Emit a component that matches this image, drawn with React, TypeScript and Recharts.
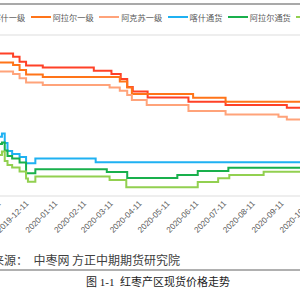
import { LineChart, Line, XAxis, YAxis, CartesianGrid } from 'recharts';

type Pt = [string, number];

const seriesNames = ['喀什一级', '阿拉尔一级', '阿克苏一级', '喀什通货', '阿拉尔通货', '阿克苏通货'];
const seriesColors = ['#ff4127', '#ff7419', '#ffa37a', '#1fb1f2', '#19b04c', '#92d050'];

// step-change points (date, price)
const kashiGrade1: Pt[] = [
  ['2019-11-01', 9.96], ['2019-11-26', 9.79], ['2019-12-03', 9.51], ['2019-12-10', 9.3],
  ['2019-12-28', 9.18], ['2020-02-21', 9.0], ['2020-03-11', 8.82], ['2020-03-21', 8.54],
  ['2020-03-28', 8.09], ['2020-04-03', 7.84], ['2020-04-19', 7.5], ['2020-06-02', 7.27],
  ['2020-07-12', 7.08], ['2020-09-16', 6.94], ['2020-10-15', 6.94],
];
const alaerGrade1: Pt[] = [
  ['2019-11-01', 9.46], ['2019-11-26', 9.32], ['2019-12-03', 9.04], ['2019-12-10', 8.79],
  ['2019-12-28', 8.65], ['2020-03-20', 8.4], ['2020-03-28', 8.06], ['2020-04-02', 7.7],
  ['2020-06-07', 7.49], ['2020-07-12', 7.27], ['2020-10-15', 7.27],
];
const akesuGrade1: Pt[] = [
  ['2019-11-01', 8.96], ['2019-11-26', 8.82], ['2019-12-03', 8.58], ['2019-12-10', 8.34],
  ['2019-12-28', 8.2], ['2020-03-09', 8.06], ['2020-03-20', 7.89], ['2020-03-28', 7.64],
  ['2020-04-02', 7.36], ['2020-04-18', 7.08], ['2020-06-02', 6.75], ['2020-07-12', 6.56],
  ['2020-09-07', 6.43], ['2020-09-16', 6.28], ['2020-10-15', 6.28],
];
const kashiBulk: Pt[] = [
  ['2019-11-01', 5.31], ['2019-11-14', 5.5], ['2019-11-17', 4.96], ['2019-11-20', 4.51],
  ['2019-11-25', 4.35], ['2019-12-03', 4.18], ['2019-12-10', 3.83], ['2019-12-20', 4.1],
  ['2020-02-23', 3.88], ['2020-10-15', 3.88],
];
const alaerBulk: Pt[] = [
  ['2019-11-01', 4.91], ['2019-11-14', 4.99], ['2019-11-17', 4.54], ['2019-11-20', 4.23],
  ['2019-11-25', 4.09], ['2019-12-03', 3.87], ['2019-12-10', 3.27], ['2019-12-20', 3.49],
  ['2020-03-06', 3.34], ['2020-03-28', 3.01], ['2020-05-21', 3.17], ['2020-06-12', 3.4],
  ['2020-07-15', 3.58], ['2020-10-15', 3.58],
];
const akesuBulk: Pt[] = [
  ['2019-11-01', 4.29], ['2019-11-14', 4.49], ['2019-11-17', 3.96], ['2019-11-20', 3.73],
  ['2019-11-25', 3.59], ['2019-12-03', 3.37], ['2019-12-10', 2.98], ['2019-12-12', 2.8],
  ['2019-12-20', 3.09], ['2020-03-09', 2.89], ['2020-03-27', 2.49], ['2020-06-12', 2.78],
  ['2020-07-04', 2.99], ['2020-07-16', 3.17], ['2020-08-22', 3.36], ['2020-10-15', 3.36],
];

const allSeries = [kashiGrade1, alaerGrade1, akesuGrade1, kashiBulk, alaerBulk, akesuBulk];

const monthTicks = [
  '2019-10-11', '2019-11-11', '2019-12-11', '2020-01-11', '2020-02-11', '2020-03-11', '2020-04-11',
  '2020-05-11', '2020-06-11', '2020-07-11', '2020-08-11', '2020-09-11', '2020-10-11',
];
const priceTicks = [2, 3, 4, 5, 6, 7, 8, 9, 10, 11];

const BASE = Date.parse('2019-12-11');
const toDay = (s: string) => (Date.parse(s) - BASE) / 86400000;
const tickLabel: Record<number, string> = Object.fromEntries(monthTicks.map((t) => [toDay(t), t]));

function DateTick({ x, y, payload }: any) {
  return (
    <text
      x={x}
      y={y}
      dy={3}
      textAnchor="end"
      transform={`rotate(-45, ${x}, ${y})`}
      fontSize={8.2}
      fill="#595959"
      fontFamily="'Liberation Sans', Arial, sans-serif"
    >
      {tickLabel[payload.value]}
    </text>
  );
}

export default function App() {
  return (
    <div
      style={{
        position: 'fixed',
        left: 0,
        top: 0,
        width: 300,
        height: 300,
        overflow: 'hidden',
        background: '#fff',
        fontFamily: "'Noto Sans CJK SC', sans-serif",
      }}
    >
      <div style={{ position: 'absolute', left: 0, top: 3, width: 300, height: 2, background: '#a9a9a9' }} />

      <div style={{ position: 'absolute', left: -29.6, top: 11, display: 'flex', alignItems: 'center', whiteSpace: 'nowrap' }}>
        {seriesNames.map((name, i) => (
          <div key={name} style={{ display: 'flex', alignItems: 'center', marginRight: 5.5 }}>
            <span style={{ width: 20, height: 2, background: seriesColors[i], marginRight: 2 }} />
            <span style={{ fontSize: 8.2, lineHeight: '12px', color: '#595959' }}>{name}</span>
          </div>
        ))}
      </div>

      <div style={{ position: 'absolute', left: -40, top: 0 }}>
        <LineChart width={380} height={236} margin={{ top: 35, right: 0, bottom: 0, left: 0 }}>
          <CartesianGrid vertical={false} stroke="#dedede" strokeWidth={1.2} />
          <XAxis
            dataKey="x"
            type="number"
            domain={[-72.2, 337.3]}
            allowDataOverflow
            ticks={monthTicks.map(toDay)}
            interval={0}
            tick={<DateTick />}
            tickLine={false}
            axisLine={false}
            tickSize={0}
            tickMargin={6}
            height={40}
          />
          <YAxis
            type="number"
            domain={[2, 11]}
            ticks={priceTicks}
            width={0}
            tick={false}
            tickLine={false}
            axisLine={false}
          />
          {allSeries.map((s, i) => (
            <Line
              key={seriesNames[i]}
              data={s.map(([d, v]) => ({ x: toDay(d), y: v }))}
              dataKey="y"
              type="stepAfter"
              stroke={seriesColors[i]}
              strokeWidth={2}
              dot={false}
              isAnimationActive={false}
            />
          ))}
        </LineChart>
      </div>

      <div style={{ position: 'absolute', left: -8, top: 251, fontSize: 12, color: '#404040', whiteSpace: 'pre' }}>
        {'来源：  中枣网 方正中期期货研究院'}
      </div>
      <div style={{ position: 'absolute', left: 0, top: 269, width: 300, height: 2, background: '#b0b0b0' }} />
      <div
        style={{
          position: 'absolute',
          left: 86,
          top: 273,
          fontSize: 11,
          color: '#222',
          whiteSpace: 'pre',
          fontFamily: "'Liberation Serif', 'Noto Sans CJK SC', serif",
        }}
      >
        {'图 1-1  红枣产区现货价格走势'}
      </div>
    </div>
  );
}
